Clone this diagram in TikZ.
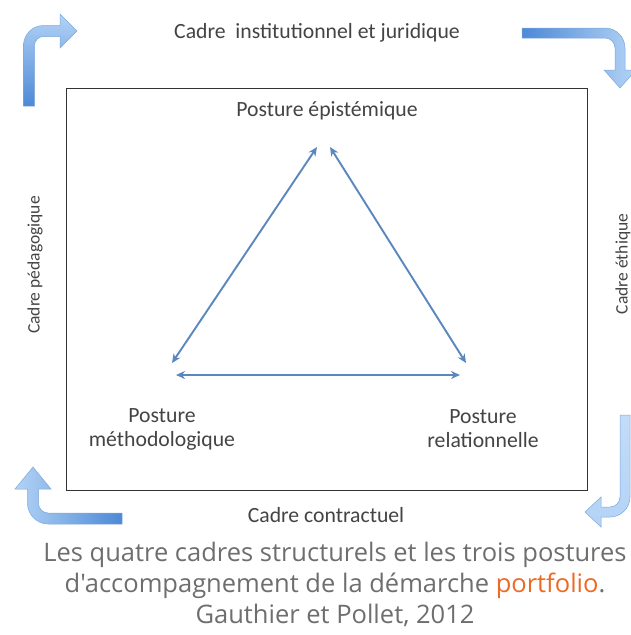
\documentclass[tikz,border=0pt]{standalone}
\usepackage{fontspec}
\setmainfont{Carlito}
\newfontfamily\capfont{Open Sans}
\usetikzlibrary{arrows.meta}
\definecolor{labelgray}{HTML}{444444}
\definecolor{capgray}{HTML}{6E6E6E}
\definecolor{portorange}{HTML}{EC6A24}
\definecolor{triblue}{HTML}{5B87BF}
\definecolor{lightblue}{HTML}{B3D3F6}
\definecolor{darkblue}{HTML}{4C89D6}
\definecolor{arrowborder}{HTML}{7EA8DA}
\definecolor{framegray}{HTML}{333333}
\begin{document}
\begin{tikzpicture}[x=1pt,y=-1pt,
  lbl/.style={font=\fontsize{21.7}{24}\selectfont, text=labelgray, inner sep=0pt, align=center},
  sidelbl/.style={font=\fontsize{17.5}{21}\selectfont, text=labelgray, inner sep=0pt, rotate=90},
  cornerarrow/.style={draw=arrowborder, line width=0.5pt},
  tri/.style={draw=triblue, line width=1.9pt, {Stealth[length=9pt,width=8pt]}-{Stealth[length=9pt,width=8pt]}},
  frame/.style={draw=framegray, line width=1pt, minimum width=521pt, minimum height=402pt, inner sep=0pt}]
\useasboundingbox (0,0) rectangle (631,635);
\fill[white] (0,0) rectangle (631,635);

% corner arrows
\shade[cornerarrow, top color=lightblue, bottom color=darkblue]
  (23.5,106) -- (23.5,45.5) .. controls (23.5,34.5) and (32.5,25.5) .. (43.5,25.5) -- (60,25.5) -- (60,14) -- (77,31) -- (60,48) -- (60,36.5) -- (43.5,36.5) .. controls (38.5,36.5) and (34.5,40.5) .. (34.5,45.5) -- (34.5,106) -- cycle;
\shade[cornerarrow, left color=darkblue, right color=lightblue]
  (522,28) -- (605,28) .. controls (616,28) and (625,37) .. (625,48) -- (625,70) -- (636,70) -- (620,88) -- (604,70) -- (615,70) -- (615,48) .. controls (615,42.5) and (610.5,38) .. (605,38) -- (522,38) -- cycle;
\shade[cornerarrow, left color=lightblue, right color=darkblue]
  (122,524) -- (48,524) .. controls (37,524) and (27.5,514.5) .. (27.5,503.5) -- (27.5,489) -- (15,489) -- (33,467) -- (51,489) -- (38.5,489) -- (38.5,503.5) .. controls (38.5,508.5) and (43,513) .. (48,513) -- (122,513) -- cycle;
\shade[cornerarrow, top color=lightblue!80, bottom color=lightblue]
  (620,415) -- (620,497) .. controls (620,502.5) and (615.5,507) .. (610,507) -- (601,507) -- (601,497) -- (585,512) -- (601,527) -- (601,517) -- (610,517) .. controls (621,517) and (630,508) .. (630,497) -- (630,415) -- cycle;

% frame
\node[frame] (box) at (326.5,289) {};

% outer labels
\node[lbl] (inst) at (317,33) {Cadre\ \ institutionnel et juridique};
\node[sidelbl] (peda) at (35,265) {Cadre pédagogique};
\node[sidelbl] (ethi) at (623,264) {Cadre éthique};
\node[lbl] (contr) at (326,515) {Cadre contractuel};

% postures
\node[lbl] (epi) at (327,111) {Posture épistémique};
\node[lbl] (meth) at (162,429) {Posture\\méthodologique};
\node[lbl] (rel) at (483,429) {Posture\\relationnelle};

% triangle connectors
\coordinate (tl) at (317,147);
\coordinate (tr) at (330,147);
\coordinate (bl) at (172,363);
\coordinate (br) at (466,363);
\coordinate (hl) at (176,375);
\coordinate (hr) at (460,375);
\draw[tri] (bl) -- (tl);
\draw[tri] (tr) -- (br);
\draw[tri] (hl) -- (hr);

% caption
\node[font=\capfont\fontsize{25.5}{31}\selectfont, text=capgray, align=center, inner sep=0pt] (cap) at (335,584)
  {Les quatre cadres structurels et les trois postures\\d'accompagnement de la démarche \textcolor{portorange}{portfolio}.\\Gauthier et Pollet, 2012};
\end{tikzpicture}
\end{document}
